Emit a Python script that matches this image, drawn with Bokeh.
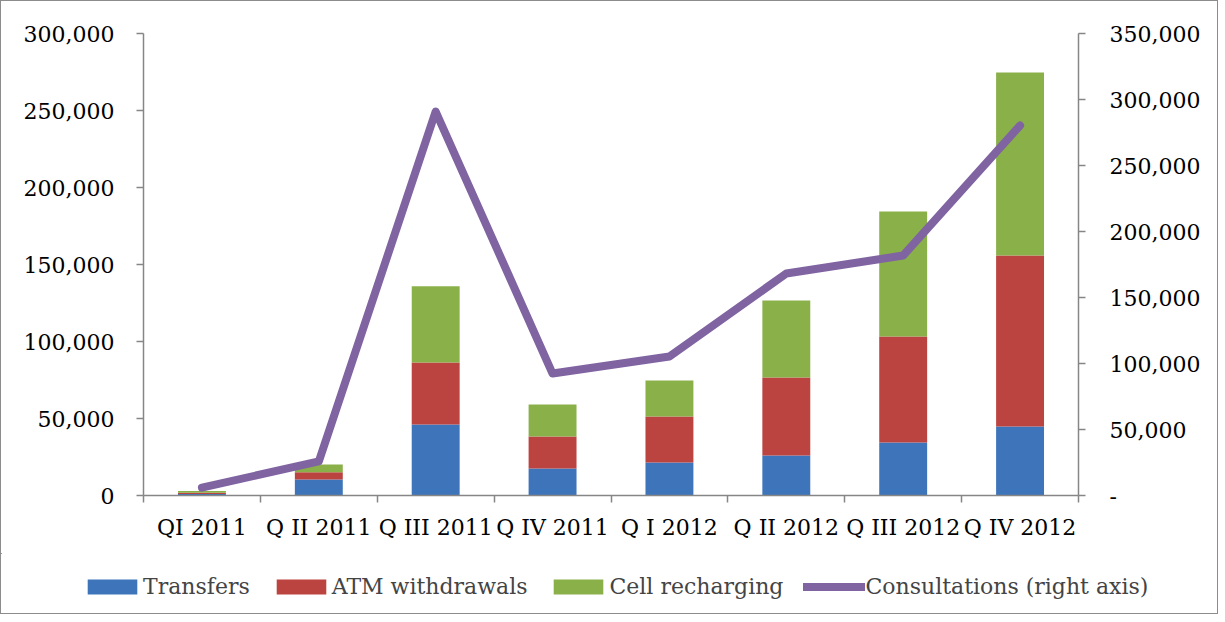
from bokeh.plotting import figure
from bokeh.layouts import column
from bokeh.models import (Range1d, LinearAxis, FixedTicker, NumeralTickFormatter,
                          Legend, LegendItem, ColumnDataSource)
from bokeh.embed import file_html
from bokeh.resources import INLINE

categories = ["QI 2011", "Q II 2011", "Q III 2011", "Q IV 2011",
              "Q I 2012", "Q II 2012", "Q III 2012", "Q IV 2012"]
transfers = [1000, 10400, 46100, 17500, 21400, 26000, 34400, 44800]
atm = [800, 4700, 40300, 20800, 29900, 50600, 68800, 111000]
cell = [1200, 5000, 49400, 20800, 23400, 50000, 81200, 118800]
consultations = [6000, 25800, 290900, 92400, 105300, 168200, 181800, 280300]
series_names = ["Transfers", "ATM withdrawals", "Cell recharging", "Consultations (right axis)"]

FONT = "DejaVu Serif"
FS = "22px"
BAR_COLORS = ["#3D74BA", "#BB4340", "#8AB04A"]
LINE_COLOR = "#8064A2"

xs = [i + 0.5 for i in range(len(categories))]
src = ColumnDataSource(dict(x=xs, transfers=transfers, atm=atm, cell=cell,
                            consultations=consultations))

W, H1, H2 = 1216, 552, 60
p = figure(width=W, height=H1, output_backend="svg", toolbar_location=None,
           x_range=Range1d(0, len(categories)), y_range=Range1d(0, 300000),
           min_border_left=142, min_border_right=W - 1077, min_border_top=32,
           min_border_bottom=H1 - 494, x_axis_type=None, y_axis_type=None)
p.frame_align = False
p.outline_line_color = None
p.grid.visible = False
p.extra_y_ranges = {"right": Range1d(0, 350000)}

bars = p.vbar_stack(["transfers", "atm", "cell"], x="x", width=0.41, source=src,
                    color=BAR_COLORS, line_color=None)
ln = p.line("x", "consultations", source=src, y_range_name="right",
            line_width=8, line_color=LINE_COLOR, line_cap="round", line_join="round")

def style_axis(ax):
    ax.axis_line_color = "#868686"
    ax.major_tick_line_color = "#868686"
    ax.minor_tick_line_color = "#868686"
    ax.major_tick_in = 0
    ax.major_tick_out = 7
    ax.minor_tick_in = 0
    ax.minor_tick_out = 0
    ax.major_label_text_font = FONT
    ax.major_label_text_font_size = FS
    ax.major_label_text_color = "black"
    ax.axis_line_width = 1.5
    ax.major_tick_line_width = 1.5

xax = LinearAxis(ticker=FixedTicker(ticks=xs, minor_ticks=list(range(len(categories) + 1))))
style_axis(xax)
xax.major_tick_out = 0
xax.minor_tick_out = 7
xax.minor_tick_line_width = 1.5
xax.major_label_overrides = {x: c for x, c in zip(xs, categories)}
xax.major_label_standoff = 12
p.add_layout(xax, "below")

lax = LinearAxis(ticker=FixedTicker(ticks=list(range(0, 300001, 50000))),
                 formatter=NumeralTickFormatter(format="0,0"))
style_axis(lax)
lax.major_label_standoff = 22
p.add_layout(lax, "left")

rax = LinearAxis(y_range_name="right", ticker=FixedTicker(ticks=list(range(0, 350001, 50000))),
                 formatter=NumeralTickFormatter(format="0,0"))
style_axis(rax)
rax.major_label_overrides = {0: "-"}
rax.major_label_standoff = 24
p.add_layout(rax, "right")

# legend strip below the chart: its own small figure whose ranges keep the
# (same) data out of view, so only the legend is drawn there
lg = figure(width=W, height=H2, output_backend="svg", toolbar_location=None,
            x_range=Range1d(20, 28), y_range=Range1d(-400000, -300000),
            min_border_left=0, min_border_right=0, min_border_top=0, min_border_bottom=0,
            x_axis_type=None, y_axis_type=None)
lg.frame_align = False
lg.outline_line_color = None
lg.grid.visible = False
lr = list(lg.vbar_stack(["transfers", "atm", "cell"], x="x", width=0.41, source=src,
                        color=BAR_COLORS, line_color=None))
lr.append(lg.line("x", "consultations", source=src, line_width=8, line_color=LINE_COLOR,
                  line_cap="round", line_join="round"))
legend = Legend(items=[LegendItem(label=n, renderers=[r]) for n, r in zip(series_names, lr)],
                orientation="horizontal", location=(80, 14),
                label_text_font=FONT, label_text_font_size=FS,
                glyph_width=62, glyph_height=19, label_standoff=0, spacing=20,
                padding=0, margin=0, border_line_color=None,
                background_fill_alpha=0)
lg.add_layout(legend, "center")

layout = column(p, lg, spacing=0,
                styles={"border": "1.5px solid #8c8c8c", "box-sizing": "border-box"})

open("out.html", "w").write(file_html(layout, INLINE))
